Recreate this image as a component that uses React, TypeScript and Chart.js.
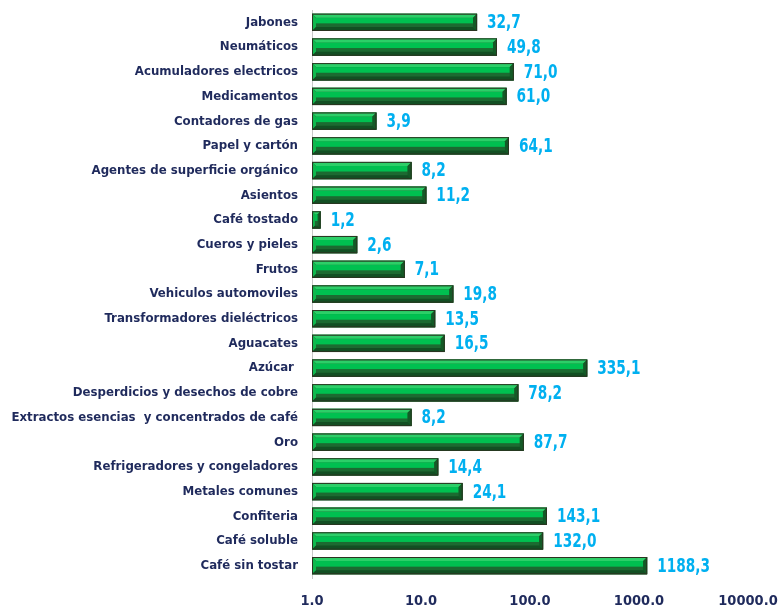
import { useEffect, useRef } from 'react';
import { Chart, registerables } from 'chart.js';

Chart.register(...registerables);

const categories = [
  'Jabones',
  'Neumáticos',
  'Acumuladores electricos',
  'Medicamentos',
  'Contadores de gas',
  'Papel y cartón',
  'Agentes de superficie orgánico',
  'Asientos',
  'Café tostado',
  'Cueros y pieles',
  'Frutos',
  'Vehiculos automoviles',
  'Transformadores dieléctricos',
  'Aguacates',
  'Azúcar ',
  'Desperdicios y desechos de cobre',
  'Extractos esencias  y concentrados de café',
  'Oro',
  'Refrigeradores y congeladores',
  'Metales comunes',
  'Confiteria',
  'Café soluble',
  'Café sin tostar',
];

const values = [
  32.7, 49.8, 71.0, 61.0, 3.9, 64.1, 8.2, 11.2, 1.2, 2.6, 7.1, 19.8, 13.5, 16.5,
  335.1, 78.2, 8.2, 87.7, 14.4, 24.1, 143.1, 132.0, 1188.3,
];

const tickValues = [1, 10, 100, 1000, 10000];

const FONT = '"DejaVu Sans Condensed", "DejaVu Sans", sans-serif';
const NAVY = '#1f2a5c';
const LABEL_BLUE = '#00b0f0';

const fmt = (v: number) => v.toFixed(1).replace('.', ',');

const bevelPlugin = {
  id: 'bevelBars',
  afterDatasetsDraw(chart: any) {
    const ctx = chart.ctx as CanvasRenderingContext2D;
    const meta = chart.getDatasetMeta(0);
    const data = chart.data.datasets[0].data as number[];
    ctx.save();
    meta.data.forEach((bar: any, i: number) => {
      const { x, y, base, height } = bar.getProps(['x', 'y', 'base', 'height'], true);
      const left = Math.min(x, base);
      const right = Math.max(x, base);
      const top = y - height / 2;
      const bottom = y + height / 2;
      const w = right - left;
      const b = Math.min(4, w / 3);
      ctx.fillStyle = '#1c6a31';
      ctx.fillRect(left, top, w, height);
      ctx.fillStyle = '#00c050';
      ctx.fillRect(left + b, top + b, w - 2 * b, y - top - b + 1);
      ctx.fillStyle = '#2ccf68';
      ctx.beginPath();
      ctx.moveTo(left, top);
      ctx.lineTo(right, top);
      ctx.lineTo(right - b, top + b);
      ctx.lineTo(left + b, top + b);
      ctx.closePath();
      ctx.fill();
      ctx.fillStyle = '#0fb84d';
      ctx.beginPath();
      ctx.moveTo(left, top);
      ctx.lineTo(left + b, top + b);
      ctx.lineTo(left + b, bottom - b);
      ctx.lineTo(left, bottom);
      ctx.closePath();
      ctx.fill();
      ctx.fillStyle = '#145a27';
      ctx.beginPath();
      ctx.moveTo(right, top);
      ctx.lineTo(right, bottom);
      ctx.lineTo(right - b, bottom - b);
      ctx.lineTo(right - b, top + b);
      ctx.closePath();
      ctx.fill();
      ctx.fillStyle = '#124f23';
      ctx.beginPath();
      ctx.moveTo(left, bottom);
      ctx.lineTo(right, bottom);
      ctx.lineTo(right - b, bottom - b);
      ctx.lineTo(left + b, bottom - b);
      ctx.closePath();
      ctx.fill();
      ctx.strokeStyle = '#2a3420';
      ctx.lineWidth = 1;
      ctx.strokeRect(left + 0.5, top + 0.5, w - 1, height - 1);
      ctx.save();
      ctx.translate(right + 10, y + 1);
      ctx.scale(0.8, 1);
      ctx.fillStyle = LABEL_BLUE;
      ctx.font = `bold 19px ${FONT}`;
      ctx.textAlign = 'left';
      ctx.textBaseline = 'middle';
      ctx.fillText(fmt(data[i]), 0, 0);
      ctx.restore();
    });
    ctx.restore();
  },
};

export default function App() {
  const ref = useRef<HTMLCanvasElement | null>(null);
  useEffect(() => {
    if (!ref.current) return;
    const chart = new Chart(ref.current, {
      type: 'bar',
      data: {
        labels: categories,
        datasets: [
          {
            data: values,
            backgroundColor: '#1c6a31',
            borderWidth: 0,
            categoryPercentage: 1,
            barPercentage: 0.7,
          },
        ],
      },
      options: {
        indexAxis: 'y',
        responsive: false,
        animation: false,
        layout: { padding: { top: 10, right: 30, left: 0, bottom: 0 } },
        plugins: { legend: { display: false }, tooltip: { enabled: false } },
        scales: {
          x: {
            type: 'logarithmic',
            min: 1,
            max: 10000,
            afterBuildTicks: (scale: any) => {
              scale.ticks = tickValues.map((v) => ({ value: v }));
            },
            afterFit: (scale: any) => {
              scale.height = 28;
              scale.paddingLeft = 0;
              scale.paddingRight = 0;
            },
            grid: { display: false, drawTicks: false },
            border: { display: false },
            ticks: {
              autoSkip: false,
              maxRotation: 0,
              padding: 15,
              color: NAVY,
              font: { family: FONT, size: 14.5, weight: 'bold' },
              callback: (v: any) => Number(v).toFixed(1),
            },
          },
          y: {
            afterFit: (scale: any) => {
              scale.width = 312;
              scale.paddingTop = 0;
              scale.paddingBottom = 0;
            },
            grid: { display: false, drawTicks: false },
            border: { display: true, color: '#c8c8c8', width: 1 },
            ticks: {
              autoSkip: false,
              padding: 14,
              color: NAVY,
              font: { family: FONT, size: 13.1, weight: 'bold' },
            },
          },
        },
      },
      plugins: [bevelPlugin],
    } as any);
    return () => chart.destroy();
  }, []);
  return (
    <div style={{ position: 'fixed', left: 0, top: 0, width: 778, height: 606, background: '#fff' }}>
      <canvas ref={ref} width={778} height={606} style={{ display: 'block' }} />
    </div>
  );
}
